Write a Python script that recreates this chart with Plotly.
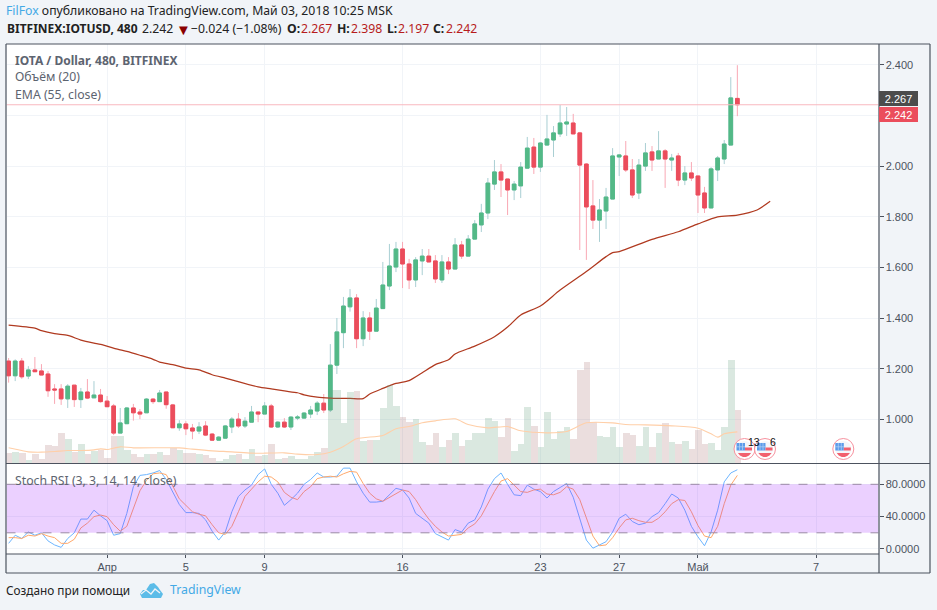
import pandas as pd
import plotly.graph_objects as go

W, H = 937, 610

open_ = [1.231,1.173,1.231,1.172,1.196,1.192,1.180,1.121,1.121,1.082,
 1.136,1.079,1.109,1.086,1.097,1.073,1.054,0.947,0.984,1.046,
 1.030,1.027,1.081,1.071,1.109,1.058,0.968,0.983,0.967,0.955,
 0.975,0.943,0.919,0.927,0.971,1.002,0.975,0.990,1.030,1.022,
 1.054,0.971,0.990,0.971,1.006,1.006,1.022,1.034,1.065,1.038,
 1.215,1.343,1.445,1.480,1.319,1.401,1.349,1.438,1.527,1.602,
 1.673,1.614,1.551,1.626,1.645,1.626,1.551,1.622,1.594,1.689,
 1.645,1.712,1.768,1.815,1.929,1.977,1.949,1.906,1.922,1.992,
 2.075,1.996,2.083,2.103,2.127,2.166,2.170,2.131,2.008,1.843,
 1.787,1.823,1.870,2.036,2.040,1.985,1.894,2.000,2.056,2.028,
 2.060,2.024,2.040,1.945,1.973,1.961,1.894,1.835,1.985,2.028,
 2.083,2.267]
high = [1.243,1.238,1.243,1.211,1.247,1.219,1.192,1.140,1.140,1.140,
 1.136,1.125,1.160,1.152,1.121,1.093,1.062,1.046,1.050,1.062,
 1.042,1.085,1.085,1.117,1.109,1.062,0.998,0.994,0.983,0.990,
 0.994,0.947,0.935,0.979,1.010,1.026,1.010,1.054,1.030,1.069,
 1.062,0.994,1.006,1.014,1.018,1.030,1.054,1.073,1.101,1.298,
 1.401,1.484,1.515,1.495,1.428,1.424,1.476,1.622,1.693,1.701,
 1.701,1.634,1.641,1.673,1.673,1.649,1.649,1.641,1.716,1.705,
 1.728,1.787,1.851,1.953,2.024,2.008,1.949,1.941,2.016,2.115,
 2.111,2.095,2.202,2.158,2.241,2.233,2.206,2.135,2.012,1.945,
 1.870,1.914,2.071,2.048,2.099,2.028,2.028,2.091,2.079,2.138,
 2.067,2.048,2.052,2.000,2.016,1.961,1.918,1.996,2.040,2.103,
 2.351,2.398]
low = [1.146,1.152,1.161,1.160,1.189,1.176,1.090,1.062,1.058,1.046,
 1.050,1.046,1.081,1.086,1.067,1.050,0.939,0.947,0.984,0.996,
 1.002,1.027,1.062,1.071,1.043,0.968,0.956,0.939,0.923,0.943,
 0.935,0.917,0.919,0.927,0.947,0.967,0.967,0.990,0.990,1.022,
 0.967,0.967,0.967,0.959,0.998,1.004,1.006,1.018,1.026,1.030,
 1.180,1.282,1.426,1.282,1.290,1.314,1.349,1.438,1.511,1.582,
 1.519,1.515,1.523,1.570,1.622,1.539,1.539,1.574,1.594,1.634,
 1.645,1.712,1.740,1.791,1.906,1.878,1.807,1.866,1.874,1.992,
 1.969,1.977,2.083,2.036,2.115,2.119,2.127,1.669,1.630,1.752,
 1.701,1.752,1.870,1.961,1.977,1.874,1.870,1.981,1.981,2.028,
 1.914,1.981,1.921,1.925,1.941,1.815,1.815,1.835,1.941,2.008,
 2.083,2.197]
close = [1.173,1.231,1.169,1.196,1.189,1.176,1.114,1.117,1.082,1.132,
 1.079,1.109,1.085,1.097,1.071,1.051,0.947,0.987,1.046,1.027,
 1.022,1.081,1.071,1.105,1.059,0.968,0.983,0.964,0.955,0.971,
 0.939,0.919,0.931,0.975,1.002,0.975,0.994,1.030,1.022,1.054,
 0.971,0.990,0.971,1.010,1.010,1.026,1.038,1.065,1.038,1.215,
 1.346,1.448,1.480,1.319,1.401,1.349,1.440,1.531,1.606,1.673,
 1.614,1.551,1.630,1.645,1.622,1.555,1.622,1.594,1.689,1.645,
 1.712,1.772,1.815,1.933,1.977,1.945,1.906,1.929,1.996,2.071,
 1.996,2.091,2.107,2.131,2.170,2.174,2.127,2.004,1.839,1.787,
 1.827,1.878,2.040,2.044,1.985,1.886,2.004,2.052,2.024,2.060,
 2.028,2.032,1.945,1.973,1.953,1.886,1.835,1.989,2.032,2.087,
 2.269,2.242]
volume = [32,35,32,12,30,15,57,54,92,75,36,60,30,39,42,18,84,84,42,30,
 21,30,30,36,27,48,42,33,33,30,27,18,9,15,27,30,15,45,24,27,
 60,15,18,24,15,15,24,36,47,222,222,123,216,219,69,72,72,168,237,174,
 141,126,135,66,57,93,51,72,93,54,72,93,93,138,129,81,138,39,59,171,
 114,51,156,75,99,111,75,282,306,126,84,81,111,51,93,87,54,111,51,93,
 123,66,60,69,45,102,60,63,42,111,312,162]
stoch_k = [7,17,13,21,17,20,10,5,2,13,20,37,37,48,41,35,17,19,44,77,
 91,92,94,97,86,70,55,45,45,44,36,22,11,21,46,65,73,79,92,99,
 80,69,54,61,69,80,86,94,89,89,90,100,100,83,69,58,58,59,67,75,
 73,63,44,38,32,19,15,11,24,21,32,36,52,74,87,94,80,67,66,79,
 74,71,63,71,76,81,64,38,11,1,5,9,21,38,43,34,30,32,40,45,
 56,68,63,48,28,15,4,21,48,83,94,98]
stoch_d = [14,14,13,17,16,19,16,14,7,7,12,26,32,40,42,40,30,22,28,50,
 72,85,93,94,92,78,62,54,46,43,41,30,20,18,28,46,65,74,83,90,
 89,83,70,64,61,71,77,87,89,90,89,93,96,95,81,69,62,59,64,69,
 73,71,61,48,37,28,21,16,17,18,26,31,41,56,71,84,87,79,71,70,
 73,74,68,67,70,77,74,61,38,16,4,5,14,26,36,38,35,33,33,38,
 46,56,61,60,46,29,16,14,28,56,79,91]
ema_bar = [0,4,5,7,9,11,13,14,17,18,20,22,23,25,27,29,31,33,34,38,40,42,44,45,47,49,
 50,52,54,55,57,59,61,63,65,67,68,71,74,76,78,81,84,88,91,92,93,98,102,105,108,111,114,116]
ema_val = [1.373,1.361,1.351,1.339,1.332,1.314,1.302,1.297,1.275,1.269,1.254,1.238,1.227,1.217,1.203,1.196,1.177,1.164,1.157,1.129,1.121,1.113,1.106,1.098,1.089,1.085,
 1.084,1.084,1.083,1.101,1.123,1.143,1.154,1.185,1.217,1.236,1.259,1.290,1.327,1.365,1.413,1.448,1.511,1.584,1.643,1.659,1.663,1.711,1.741,1.772,1.800,1.807,1.827,1.861]
vma_bar = [0,2,3,5,7,9,11,13,14,15,17,19,26,28,31,34,37,39,42,44,47,49,51,53,57,59,61,63,65,68,70,73,76,78,82,85,88,92,94,97,101,105,107,108,109,111]
vma_val = [47,39,35,34,36,39,39,41,44,42,50,47,47,43,38,35,31,31,32,28,27,34,51,74,84,104,111,122,128,134,117,107,111,98,92,96,122,122,117,116,113,106,89,79,89,95]
tick_dates = ["2018-04-01","2018-04-05","2018-04-09","2018-04-16","2018-04-23","2018-04-27","2018-05-01","2018-05-07"]
tick_text = ["Апр","5","9","16","23","27","Май","7"]
price_ticks = [1.0,1.2,1.4,1.6,1.8,2.0,2.2,2.4]
stoch_ticks = [0,40,80]

GREEN, RED = "#53b987", "#eb4d5c"
GREEN_WICK, RED_WICK = "#a9cfd3", "#f9a8b4"
PAGE = "#f1f4f8"
FRAME = "#4c525e"
GRID = "#f1f4f8"
FONT = "Liberation Sans, Arial, sans-serif"
HFONT = "Noto Sans, sans-serif"

px = lambda v: v / W
py = lambda v: 1 - v / H

all_dates = pd.date_range("2018-03-27", periods=125, freq="8h")
dates = all_dates[:112]
body_hi = [max(a, b) for a, b in zip(open_, close)]
body_lo = [min(a, b) for a, b in zip(open_, close)]

fig = go.Figure()
fig.add_trace(go.Candlestick(x=dates, open=open_, high=high, low=low, close=close,
    increasing=dict(line=dict(color=GREEN_WICK, width=1), fillcolor=GREEN_WICK),
    decreasing=dict(line=dict(color=RED_WICK, width=1), fillcolor=RED_WICK),
    xaxis="x", yaxis="y", showlegend=False))
fig.add_trace(go.Candlestick(x=dates, open=open_, high=body_hi, low=body_lo, close=close,
    increasing=dict(line=dict(color=GREEN, width=1), fillcolor=GREEN),
    decreasing=dict(line=dict(color=RED, width=1), fillcolor=RED),
    xaxis="x", yaxis="y", showlegend=False))
fig.add_trace(go.Scatter(x=all_dates[ema_bar], y=ema_val, mode="lines",
    line=dict(color="#b03a20", width=1.25, shape="spline", smoothing=0.7), xaxis="x", yaxis="y", showlegend=False))
vol_colors = ["rgba(107,165,131,0.25)" if c >= o else "rgba(155,90,90,0.2)" for o, c in zip(open_, close)]
fig.add_trace(go.Bar(x=dates, y=volume, marker=dict(color=vol_colors, line=dict(width=0)),
    xaxis="x", yaxis="y3", showlegend=False))
fig.add_trace(go.Scatter(x=all_dates[vma_bar], y=vma_val, mode="lines",
    line=dict(color="#ffcfa8", width=1.1, shape="spline", smoothing=0.7), xaxis="x", yaxis="y3", showlegend=False))
fig.add_trace(go.Scatter(x=dates, y=stoch_k, mode="lines",
    line=dict(color="#6db5ff", width=1), xaxis="x2", yaxis="y2", showlegend=False))
fig.add_trace(go.Scatter(x=dates, y=stoch_d, mode="lines",
    line=dict(color="#ffa86b", width=1), xaxis="x2", yaxis="y2", showlegend=False))

x_range = ["2018-03-26 21:24", "2018-05-10 04:00"]
xcommon = dict(type="date", range=x_range, domain=[px(6.5), px(878.5)], tickmode="array",
    tickvals=tick_dates, gridcolor=GRID, gridwidth=1, showline=False, zeroline=False, fixedrange=True)

shapes = [
    dict(type="rect", xref="x2", yref="y2", x0=x_range[0], x1=x_range[1], y0=20, y1=80,
         fillcolor="rgba(153,21,255,0.2)", line=dict(width=0), layer="above"),
    dict(type="line", xref="x2", yref="y2", x0=x_range[0], x1=x_range[1], y0=80, y1=80,
         line=dict(color="#9a8aa5", width=1, dash="dash"), layer="above"),
    dict(type="line", xref="x2", yref="y2", x0=x_range[0], x1=x_range[1], y0=20, y1=20,
         line=dict(color="#9a8aa5", width=1, dash="dash"), layer="above"),
    dict(type="line", xref="x", yref="y", x0=x_range[0], x1=x_range[1], y0=close[-1], y1=close[-1],
         line=dict(color="#f9b8bf", width=1), layer="above"),
]
def pline(x0, y0, x1, y1, color=FRAME, width=1.2):
    shapes.append(dict(type="line", xref="paper", yref="paper", x0=px(x0), x1=px(x1), y0=py(y0), y1=py(y1),
                       line=dict(color=color, width=width), layer="above"))
pline(6, 44, 930, 44); pline(6, 573, 930, 573); pline(6, 44, 6, 573); pline(930, 44, 930, 573)
pline(879, 44, 879, 573); pline(6, 463.5, 930, 463.5); pline(6, 554, 879, 554)

def pfill(path_pts, color):
    d = "M" + " L".join(f"{px(a)} {py(b)}" for a, b in path_pts) + " Z"
    shapes.append(dict(type="path", xref="paper", yref="paper", path=d, fillcolor=color,
                       line=dict(width=0), layer="above"))
def pcircle(cx, cy, r, fill, line=None):
    shapes.append(dict(type="circle", xref="paper", yref="paper", x0=px(cx - r), x1=px(cx + r),
                       y0=py(cy + r), y1=py(cy - r), fillcolor=fill,
                       line=dict(color=line or fill, width=1 if line else 0), layer="above"))
def flag(cx, cy):
    pcircle(cx, cy, 10.5, "rgba(255,255,255,0.85)", "#f7929f")
    pcircle(cx, cy, 8, "#f4f6fa")
    pfill([(cx - 8, cy - 6), (cx + 0.5, cy - 6), (cx + 0.5, cy + 1.5), (cx - 8, cy + 1.5)], "#5b9bea")
    for dx in (-5, -2):
        pline(cx + dx, cy - 6, cx + dx, cy + 1.5, color="#b9d3f5", width=0.7)
    pline(cx - 8, cy - 2.2, cx + 0.5, cy - 2.2, color="#b9d3f5", width=0.7)
    pfill([(cx + 0.5, cy - 1.5), (cx + 7.5, cy - 1.5), (cx + 7.5, cy + 1.5), (cx + 0.5, cy + 1.5)], "#f2606e")
    pfill([(cx - 6.6, cy + 4), (cx + 6.6, cy + 4), (cx + 4.5, cy + 6.6), (cx + 1.5, cy + 8), (cx - 1.5, cy + 8), (cx - 4.5, cy + 6.6)], "#f2606e")
flag(744.5, 449); flag(765, 449); flag(843.3, 449)

# TradingView logo
pfill([(140, 594), (143, 590), (146, 590), (150, 584), (154, 583), (158, 587), (160, 590), (163, 594), (161, 598), (142, 598)], "#5cbce8")
shapes.append(dict(type="path", xref="paper", yref="paper",
    path=f"M{px(141)} {py(594)} L{px(146)} {py(590)} L{px(151)} {py(594)} L{px(155)} {py(589)} L{px(160)} {py(593)}",
    line=dict(color="#f1f4f8", width=1.3), layer="above"))

annotations = []
def label(x, y, text, size=12.25, color="#4c525e", family=HFONT, anchor="left", bg=None, w=None, h=None):
    a = dict(xref="paper", yref="paper", x=px(x), y=py(y), text=text, showarrow=False, xanchor=anchor,
             yanchor="middle", font=dict(size=size, color=color, family=family), borderpad=0, borderwidth=0)
    if bg:
        a.update(bgcolor=bg, width=w, height=h, align="center")
    annotations.append(a)

dark_red = "#b71c1c"
ink = "#222222"
label(6, 11, '<span style="color:#43a9e6">FilFox</span> опубликовано на TradingView.com, Май 03, 2018 10:25 MSK', color=ink)
label(6.5, 29, "<b>BITFINEX:IOTUSD, 480</b>", color=ink, size=12)
label(141.5, 29, "2.242", color=ink)
label(175.5, 29, "▼", color="#8b0000", size=15)
label(190.5, 29, "−0.024 (−1.08%)", color=ink)
for lx, ltxt, vx, vtxt in [(286.5, "O:", 300.5, "2.267"), (336.5, "H:", 350.5, "2.398"),
                           (386.5, "L:", 397.5, "2.197"), (433, "C:", 445.5, "2.242")]:
    label(lx, 29, f"<b>{ltxt}</b>", color=ink)
    label(vx, 29, vtxt, color=dark_red)
label(15, 60, "<b>IOTA / Dollar, 480, BITFINEX</b>", color="#5d6470", size=12)
label(15, 77, "Объём (20)", color="#5d6470")
label(15, 94.5, "EMA (55, close)", color="#5d6470")
label(15, 480.5, "Stoch RSI (3, 3, 14, 14, close)", color="#5d6470")
label(6, 589.5, "Создано при помощи", color=ink, size=11.8)
label(170, 589.5, "TradingView", color="#43a9e6", size=12.3)
label(898.5, 98.8, "2.267", color="#ffffff", family=FONT, anchor="center", bg="#4c4c4c", w=39, h=15, size=11)
label(898.5, 114.7, "2.242", color="#ffffff", family=FONT, anchor="center", bg=RED, w=39, h=15, size=11)
label(753.7, 442, "13", color="#111111", family=FONT, anchor="center", size=10.5)
label(773, 442, "6", color="#111111", family=FONT, anchor="center", size=10.5)

fig.update_layout(
    width=W, height=H, margin=dict(l=0, r=0, t=0, b=0, pad=0, autoexpand=False), autosize=False,
    paper_bgcolor=PAGE, plot_bgcolor="#ffffff", bargap=0, boxgap=0.2,
    hovermode=False, dragmode=False,
    font=dict(family=FONT, size=11, color=FRAME),
    xaxis=dict(**xcommon, anchor="y", showticklabels=False, ticks="", rangeslider=dict(visible=False)),
    xaxis2=dict(**xcommon, anchor="y2", matches="x", ticktext=tick_text, ticks="outside", ticklen=3,
                tickcolor=FRAME, tickfont=dict(size=11, color=FRAME, family=FONT)),
    yaxis=dict(domain=[py(463.5), py(44)], range=[0.827, 2.4816], side="right", anchor="x",
               tickmode="array", tickvals=price_ticks, ticktext=[f"{v:.3f}" for v in price_ticks],
               gridcolor=GRID, zeroline=False, ticks="outside", ticklen=4, tickcolor=FRAME,
               tickfont=dict(size=11, color=FRAME, family=FONT), fixedrange=True),
    yaxis2=dict(domain=[py(554), py(464)], range=[-6.2, 105.1], side="right", anchor="x2",
                tickmode="array", tickvals=stoch_ticks, ticktext=[f"{v:.4f}" for v in stoch_ticks],
                gridcolor=GRID, zeroline=False, ticks="outside", ticklen=4, tickcolor=FRAME,
                tickfont=dict(size=11, color=FRAME, family=FONT), fixedrange=True),
    yaxis3=dict(domain=[py(463.5), py(44)], range=[0, 1258.5], overlaying="y", anchor="x", side="left",
                visible=False, fixedrange=True),
    shapes=shapes, annotations=annotations,
)

fig.write_html("out.html", config={"displayModeBar": False},
               post_script="document.body.style.margin='0';document.body.style.background='#f1f4f8';")
